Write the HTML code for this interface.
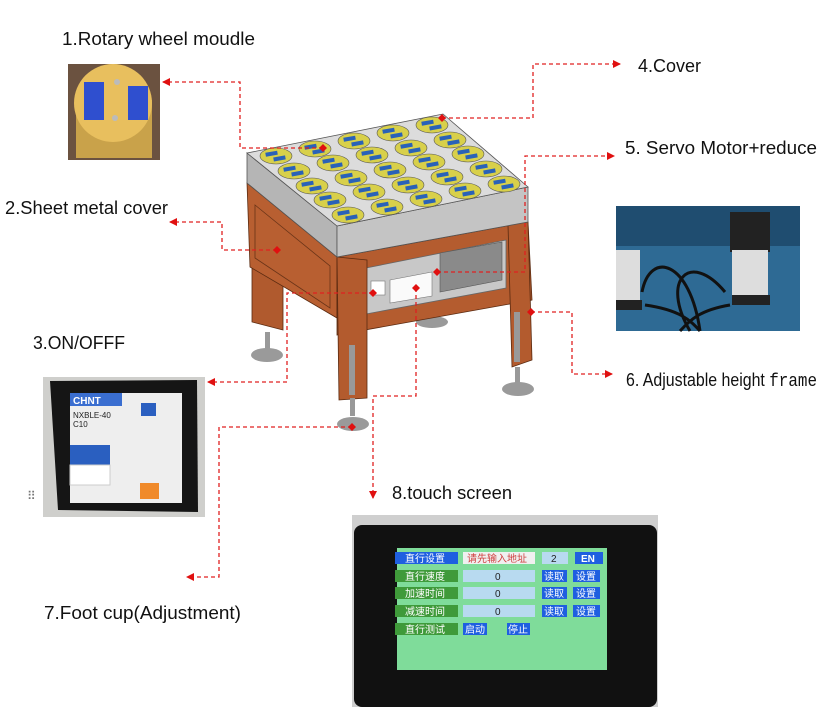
<!DOCTYPE html>
<html><head><meta charset="utf-8"><style>
html,body{margin:0;padding:0;background:#fff;width:826px;height:719px;overflow:hidden}
svg{display:block}
.t{font-family:"Liberation Sans",sans-serif;font-size:18px;fill:#111}
.cn{font-family:"Liberation Sans","Noto Sans CJK SC",sans-serif;font-size:10px}
.d{fill:none;stroke:#e02020;stroke-width:1.3;stroke-dasharray:4 3}
</style></head><body>
<svg width="826" height="719" viewBox="0 0 826 719" xmlns="http://www.w3.org/2000/svg">
<defs>
<g id="disc">
<ellipse cx="0" cy="0" rx="16" ry="8" fill="#d8d04a" stroke="#555" stroke-width="0.6"/>
<rect x="-10" y="-5" width="12" height="4" fill="#2a62b8" transform="rotate(-10)"/>
<rect x="-3" y="1" width="12" height="4" fill="#2a62b8" transform="rotate(-10)"/>
</g>
<marker id="ar" markerWidth="8" markerHeight="8" refX="7" refY="4" orient="auto" markerUnits="userSpaceOnUse"><path d="M0,0 L8,4 L0,8z" fill="#e01010"/></marker>
</defs>

<!-- Texts -->
<text class="t" x="62" y="45" textLength="193" lengthAdjust="spacingAndGlyphs">1.Rotary wheel moudle</text>
<text class="t" x="5" y="214" textLength="163" lengthAdjust="spacingAndGlyphs">2.Sheet metal cover</text>
<text class="t" x="33" y="349" textLength="92" lengthAdjust="spacingAndGlyphs">3.ON/OFFF</text>
<text class="t" x="638" y="72" textLength="63" lengthAdjust="spacingAndGlyphs">4.Cover</text>
<text class="t" x="625" y="154" textLength="192" lengthAdjust="spacingAndGlyphs">5. Servo Motor+reduce</text>
<text class="t" x="626" y="386" font-size="16" textLength="191" lengthAdjust="spacingAndGlyphs">6. Adjustable height <tspan font-family="Liberation Mono">frame</tspan></text>
<text class="t" x="44" y="619" textLength="197" lengthAdjust="spacingAndGlyphs">7.Foot cup(Adjustment)</text>
<text class="t" x="392" y="499" textLength="120" lengthAdjust="spacingAndGlyphs">8.touch screen</text>

<!-- Rotary photo -->
<rect x="68" y="64" width="92" height="96" fill="#6b5240"/>
<rect x="76" y="100" width="76" height="58" fill="#c9a24a"/>
<circle cx="113" cy="103" r="39" fill="#e8bf5e"/>
<rect x="84" y="82" width="20" height="38" fill="#2f4fcf"/>
<rect x="128" y="86" width="20" height="34" fill="#2f4fcf"/>
<circle cx="117" cy="82" r="3" fill="#bbb"/><circle cx="115" cy="118" r="3" fill="#bbb"/>

<!-- Servo photo -->
<rect x="616" y="206" width="184" height="125" fill="#2e6a94"/>
<rect x="616" y="206" width="184" height="40" fill="#1f4d70"/>
<rect x="730" y="212" width="40" height="40" fill="#222"/>
<rect x="732" y="250" width="36" height="46" fill="#ddd"/>
<rect x="732" y="295" width="38" height="10" fill="#222"/>
<rect x="616" y="250" width="24" height="50" fill="#ddd"/>
<rect x="616" y="300" width="26" height="10" fill="#222"/>
<path d="M642 292 C 650 250, 690 260, 700 331 M725 292 C 690 250, 660 280, 690 331 M645 305 C 680 310, 690 320, 700 331 M730 305 C 700 310, 690 320, 680 331" stroke="#111" stroke-width="3" fill="none"/>

<!-- Breaker photo -->
<rect x="43" y="377" width="162" height="140" fill="#cfcfcc"/>
<path d="M50 381 L197 380 L198 512 L58 510 Z" fill="#151515"/>
<rect x="70" y="393" width="112" height="110" fill="#eeeeee"/>
<rect x="70" y="393" width="52" height="13" fill="#3a6ed0"/>
<text x="73" y="404" font-family="Liberation Sans" font-size="10" font-weight="bold" fill="#fff">CHNT</text>
<text x="73" y="418" font-family="Liberation Sans" font-size="8" fill="#222">NXBLE-40</text>
<text x="73" y="427" font-family="Liberation Sans" font-size="8" fill="#222">C10</text>
<rect x="70" y="445" width="40" height="22" fill="#2a5fc0"/>
<rect x="70" y="465" width="40" height="20" fill="#fff" stroke="#ccc"/>
<rect x="141" y="403" width="15" height="13" fill="#2a5fc0"/>
<rect x="140" y="483" width="19" height="16" fill="#f08a2a"/>
<text x="27" y="500" font-size="12" fill="#777">⠿</text>

<!-- Machine -->
<rect x="429" y="300" width="6" height="18" fill="#999"/>
<ellipse cx="432" cy="322" rx="16" ry="6" fill="#9a9a9a"/>
<path d="M252 180 L283 190 L283 330 L252 322 Z" fill="#b05a2e" stroke="#5a2a10" stroke-width="0.8"/>
<rect x="265" y="332" width="5" height="18" fill="#999"/>
<ellipse cx="267" cy="355" rx="16" ry="7" fill="#9a9a9a"/>
<path d="M247 183 L337 257 L337 318 L250 267 Z" fill="#b85f31" stroke="#5a2a10" stroke-width="0.8"/>
<path d="M255 205 L330 266 L330 308 L255 258 Z" fill="none" stroke="#6a3418" stroke-width="0.8"/>
<path d="M337 257 L528 222 L532 300 L337 335 Z" fill="#b45c2f" stroke="#5a2a10" stroke-width="0.8"/>
<path d="M366 268 L506 240 L506 288 L366 314 Z" fill="#c8c8c8" stroke="#666" stroke-width="0.8"/>
<path d="M440 253 L502 242 L502 280 L440 292 Z" fill="#8a8a8a" stroke="#555" stroke-width="0.6"/>
<path d="M390 280 L432 272 L432 296 L390 303 Z" fill="#fafafa" stroke="#777" stroke-width="0.6"/>
<rect x="371" y="281" width="14" height="14" fill="#fff" stroke="#777" stroke-width="0.6"/>
<path d="M337 257 L367 260 L367 398 L339 400 Z" fill="#b35b2e" stroke="#5a2a10" stroke-width="0.8"/>
<rect x="349" y="345" width="6" height="50" fill="#999"/>
<rect x="350" y="398" width="5" height="18" fill="#999"/>
<ellipse cx="353" cy="424" rx="16" ry="7" fill="#9a9a9a"/>
<path d="M508 225 L528 222 L532 360 L512 367 Z" fill="#b35b2e" stroke="#5a2a10" stroke-width="0.8"/>
<rect x="514" y="312" width="6" height="50" fill="#999"/>
<rect x="515" y="367" width="5" height="18" fill="#999"/>
<ellipse cx="518" cy="389" rx="16" ry="7" fill="#9a9a9a"/>
<path d="M247 153 L337 226 L337 257 L247 183 Z" fill="#b5b5b5" stroke="#555" stroke-width="0.8"/>
<path d="M337 226 L528 187 L528 222 L337 257 Z" fill="#c4c4c4" stroke="#555" stroke-width="0.8"/>
<path d="M247 153 L443 114 L528 187 L337 226 Z" fill="#dcdcdc" stroke="#555" stroke-width="0.8"/>
<use href="#disc" x="276" y="156"/><use href="#disc" x="294" y="171"/><use href="#disc" x="312" y="186"/><use href="#disc" x="330" y="200"/><use href="#disc" x="348" y="215"/>
<use href="#disc" x="315" y="149"/><use href="#disc" x="333" y="163"/><use href="#disc" x="351" y="178"/><use href="#disc" x="369" y="192"/><use href="#disc" x="387" y="207"/>
<use href="#disc" x="354" y="141"/><use href="#disc" x="372" y="155"/><use href="#disc" x="390" y="170"/><use href="#disc" x="408" y="185"/><use href="#disc" x="426" y="199"/>
<use href="#disc" x="393" y="133"/><use href="#disc" x="411" y="148"/><use href="#disc" x="429" y="162"/><use href="#disc" x="447" y="177"/><use href="#disc" x="465" y="191"/>
<use href="#disc" x="432" y="125"/><use href="#disc" x="450" y="140"/><use href="#disc" x="468" y="154"/><use href="#disc" x="486" y="169"/><use href="#disc" x="504" y="184"/>

<!-- Touch screen photo -->
<rect x="352" y="515" width="306" height="192" fill="#cfcfcf"/>
<rect x="354" y="525" width="303" height="182" rx="8" fill="#111"/>
<rect x="397" y="548" width="210" height="122" fill="#7fdc9a"/>
<g class="cn">
<rect x="395" y="552" width="63" height="12" fill="#1f5fe0"/><text x="405" y="562" fill="#fff">直行设置</text>
<rect x="463" y="552" width="72" height="12" fill="#f0f0f0"/><text x="467" y="562" fill="#d04040">请先输入地址</text>
<rect x="542" y="552" width="26" height="12" fill="#b8daf0"/><text x="551" y="562" fill="#222">2</text>
<rect x="575" y="552" width="28" height="12" fill="#1f5fe0"/><text x="581" y="562" fill="#fff" font-weight="bold">EN</text>
<rect x="395" y="570" width="63" height="12" fill="#3f9a3a"/><text x="405" y="580" fill="#fff">直行速度</text>
<rect x="463" y="570" width="72" height="12" fill="#b8daf0"/><text x="495" y="580" fill="#222">0</text>
<rect x="542" y="570" width="25" height="12" fill="#1f5fe0"/><text x="544" y="580" fill="#fff">读取</text>
<rect x="573" y="570" width="27" height="12" fill="#1f5fe0"/><text x="576" y="580" fill="#fff">设置</text>
<rect x="395" y="587" width="63" height="12" fill="#3f9a3a"/><text x="405" y="597" fill="#fff">加速时间</text>
<rect x="463" y="587" width="72" height="12" fill="#b8daf0"/><text x="495" y="597" fill="#222">0</text>
<rect x="542" y="587" width="25" height="12" fill="#1f5fe0"/><text x="544" y="597" fill="#fff">读取</text>
<rect x="573" y="587" width="27" height="12" fill="#1f5fe0"/><text x="576" y="597" fill="#fff">设置</text>
<rect x="395" y="605" width="63" height="12" fill="#3f9a3a"/><text x="405" y="615" fill="#fff">减速时间</text>
<rect x="463" y="605" width="72" height="12" fill="#b8daf0"/><text x="495" y="615" fill="#222">0</text>
<rect x="542" y="605" width="25" height="12" fill="#1f5fe0"/><text x="544" y="615" fill="#fff">读取</text>
<rect x="573" y="605" width="27" height="12" fill="#1f5fe0"/><text x="576" y="615" fill="#fff">设置</text>
<rect x="395" y="623" width="63" height="12" fill="#3f9a3a"/><text x="405" y="633" fill="#fff">直行测试</text>
<rect x="463" y="623" width="24" height="12" fill="#1f5fe0"/><text x="465" y="633" fill="#fff">启动</text>
<rect x="507" y="623" width="23" height="12" fill="#1f5fe0"/><text x="508" y="633" fill="#fff">停止</text>
</g>

<!-- Connectors -->
<polyline class="d" points="323,148 240,148 240,82 163,82" marker-end="url(#ar)"/>
<polyline class="d" points="277,250 222,250 222,222 170,222" marker-end="url(#ar)"/>
<polyline class="d" points="442,118 533,118 533,64 620,64" marker-end="url(#ar)"/>
<polyline class="d" points="437,272 525,272 525,156 614,156" marker-end="url(#ar)"/>
<polyline class="d" points="531,312 572,312 572,374 612,374" marker-end="url(#ar)"/>
<polyline class="d" points="373,293 287,293 287,382 208,382" marker-end="url(#ar)"/>
<polyline class="d" points="416,288 416,396 373,396 373,498" marker-end="url(#ar)"/>
<polyline class="d" points="352,427 219,427 219,577 187,577" marker-end="url(#ar)"/>
<g fill="#e01010">
<path d="M323 144 l4 4 -4 4 -4 -4z"/><path d="M277 246 l4 4 -4 4 -4 -4z"/><path d="M442 114 l4 4 -4 4 -4 -4z"/>
<path d="M437 268 l4 4 -4 4 -4 -4z"/><path d="M531 308 l4 4 -4 4 -4 -4z"/><path d="M373 289 l4 4 -4 4 -4 -4z"/>
<path d="M416 284 l4 4 -4 4 -4 -4z"/><path d="M352 423 l4 4 -4 4 -4 -4z"/>
</g>
</svg>
</body></html>
